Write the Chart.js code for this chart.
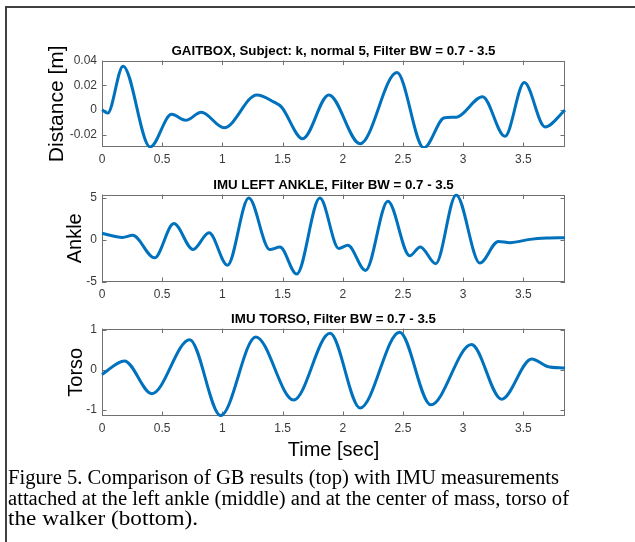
<!DOCTYPE html>
<html>
<head>
<meta charset="utf-8">
<script src="https://cdn.jsdelivr.net/npm/chart.js@4/dist/chart.umd.min.js"></script>
<style>
  html,body{margin:0;padding:0;background:#fff;}
  #stage{position:relative;width:635px;height:542px;overflow:hidden;background:#fff;}
  #frame{position:absolute;left:5px;top:6px;width:640px;height:560px;border-left:2px solid #404040;border-top:2px solid #404040;}
  canvas{position:absolute;left:0;top:0;}
  .cap{position:absolute;left:8px;font-family:"Liberation Serif","Times New Roman",serif;font-size:20px;line-height:20px;color:#000;white-space:nowrap;transform-origin:0 0;}
</style>
</head>
<body>
<div id="stage">
  <div id="frame"></div>
  <canvas id="c1" width="635" height="542"></canvas>
  <canvas id="c2" width="635" height="542"></canvas>
  <canvas id="c3" width="635" height="542"></canvas>
  <div class="cap" id="cap1" style="top:467px">Figure 5. Comparison of GB results (top) with IMU measurements</div>
  <div class="cap" id="cap2" style="top:488px">attached at the left ankle (middle) and at the center of mass, torso of</div>
  <div class="cap" id="cap3" style="top:508px">the walker (bottom).</div>
</div>
<script>
// ---- data ----
const xTickValues = [0, 0.5, 1, 1.5, 2, 2.5, 3, 3.5];
const xTickLabels = ['0', '0.5', '1', '1.5', '2', '2.5', '3', '3.5'];
const timeMax = 3.846;

const distT = [0.00, 0.047, 0.175, 0.40, 0.578, 0.694, 0.825, 1.014, 1.286, 1.43, 1.49, 1.667, 1.884, 2.144, 2.45, 2.673, 2.845, 2.944, 3.161, 3.347, 3.508, 3.68, 3.846];
const distV = [0.0003, -0.0024, 0.0355, -0.0298, -0.0034, -0.0083, -0.0018, -0.0143, 0.0122, 0.0064, 0.0026, -0.0231, 0.0122, -0.0272, 0.0303, -0.0305, -0.0062, -0.0057, 0.0108, -0.0212, 0.0222, -0.0136, 0.0000];
const distTickValues = [-0.02, 0, 0.02, 0.04];
const distTickLabels = ['-0.02', '0', '0.02', '0.04'];

const ankleT = [0.00, 0.17, 0.255, 0.436, 0.597, 0.756, 0.889, 1.042, 1.219, 1.394, 1.478, 1.617, 1.81, 1.967, 2.042, 2.189, 2.375, 2.556, 2.644, 2.772, 2.942, 3.139, 3.292, 3.389, 3.556, 3.694, 3.846];
const ankleV = [0.80, 0.31, 0.56, -2.12, 1.96, -1.12, 0.86, -3.0, 5.0, -1.13, -0.84, -4.06, 5.0, -1.0, -0.62, -3.62, 4.62, -1.87, -0.82, -2.82, 5.38, -2.74, -0.16, -0.31, 0.08, 0.23, 0.27];
const ankleTickValues = [-5, 0, 5];
const ankleTickLabels = ['-5', '0', '5'];

const torsoT = [0.00, 0.186, 0.414, 0.728, 0.986, 1.278, 1.592, 1.894, 2.144, 2.472, 2.731, 3.069, 3.319, 3.569, 3.70, 3.846];
const torsoV = [-0.12, 0.22, -0.60, 0.75, -1.15, 0.82, -0.76, 0.91, -0.96, 0.94, -0.88, 0.63, -0.74, 0.27, 0.08, 0.04];
const torsoTickValues = [-1, 0, 1];
const torsoTickLabels = ['-1', '0', '1'];

// ---- drawing ----
Chart.defaults.font.family = "'Liberation Sans', Arial, Helvetica, sans-serif";

const boxPlugin = {
  id: 'matlabBox',
  beforeDatasetsDraw(chart) {
    const {ctx, chartArea: a, scales: {x, y}} = chart;
    ctx.save();
    ctx.strokeStyle = '#707070';
    ctx.lineWidth = 1;
    ctx.strokeRect(Math.round(a.left) + 0.5, Math.round(a.top) + 0.5, Math.round(a.right - a.left) - 1, Math.round(a.bottom - a.top) - 1);
    const L = 4.5;
    ctx.beginPath();
    x.ticks.forEach(t => {
      const px = Math.round(x.getPixelForValue(t.value)) + 0.5;
      ctx.moveTo(px, a.bottom); ctx.lineTo(px, a.bottom - L);
      ctx.moveTo(px, a.top); ctx.lineTo(px, a.top + L);
    });
    y.ticks.forEach(t => {
      const py = Math.round(y.getPixelForValue(t.value)) + 0.5;
      ctx.moveTo(a.left, py); ctx.lineTo(a.left + L, py);
      ctx.moveTo(a.right, py); ctx.lineTo(a.right - L, py);
    });
    ctx.stroke();
    ctx.restore();
  }
};

function makeChart(id, cfg) {
  const pts = cfg.t.map((t, i) => ({x: t, y: cfg.v[i]}));
  const tickFont = {size: 12};
  const tickColor = '#3a3a3a';
  return new Chart(document.getElementById(id), {
    type: 'line',
    data: {datasets: [{data: pts, borderColor: '#0072BD', borderWidth: 3, pointRadius: 0,
      cubicInterpolationMode: 'monotone', fill: false, clip: 1}]},
    options: {
      responsive: false, animation: false, devicePixelRatio: 1,
      layout: {padding: {left: 42, right: 70, top: cfg.top - 15.7, bottom: cfg.bottom}},
      plugins: {
        legend: {display: false}, tooltip: {enabled: false},
        title: {display: true, text: cfg.title, fullSize: false, color: '#000',
          font: {size: 13.3, weight: 'bold'}, padding: {top: 0, bottom: 1.3}}
      },
      scales: {
        x: {
          type: 'linear', min: 0, max: timeMax,
          afterBuildTicks: s => { s.ticks = xTickValues.map(v => ({value: v})); },
          afterFit: s => { s.height = cfg.xh; },
          ticks: {callback: (v, i) => xTickLabels[xTickValues.indexOf(v)], font: tickFont, color: tickColor,
            padding: 5, maxRotation: 0, autoSkip: false},
          grid: {display: false, drawTicks: false},
          border: {display: false},
          title: cfg.xTitle ? {display: true, text: cfg.xTitle, color: '#000', font: {size: 20}, padding: {top: 0, bottom: 4}} : {display: false}
        },
        y: {
          type: 'linear', min: cfg.ymin, max: cfg.ymax,
          afterBuildTicks: s => { s.ticks = cfg.ticks.map(v => ({value: v})); },
          afterFit: s => { s.width = 60; },
          ticks: {callback: (v) => cfg.tickLabels[cfg.ticks.indexOf(v)], font: tickFont, color: tickColor, padding: 5, autoSkip: false},
          grid: {display: false, drawTicks: false},
          border: {display: false},
          title: {display: true, text: cfg.yTitle, color: '#000', font: {size: cfg.yFont}, padding: {top: cfg.yPad, bottom: 0}}
        }
      }
    },
    plugins: [boxPlugin]
  });
}

makeChart('c1', {t: distT, v: distV, title: 'GAITBOX, Subject: k, normal 5, Filter BW = 0.7 - 3.5',
  top: 59, bottom: 542 - 147 - 30, xh: 30, ymin: -0.0298, ymax: 0.04,
  ticks: distTickValues, tickLabels: distTickLabels, yTitle: 'Distance [m]', yFont: 21, yPad: 3});
makeChart('c2', {t: ankleT, v: ankleV, title: 'IMU LEFT ANKLE, Filter BW = 0.7 - 3.5',
  top: 193, bottom: 542 - 282 - 30, xh: 30, ymin: -5, ymax: 5.42,
  ticks: ankleTickValues, tickLabels: ankleTickLabels, yTitle: 'Ankle', yFont: 20, yPad: 21});
makeChart('c3', {t: torsoT, v: torsoV, title: 'IMU TORSO, Filter BW = 0.7 - 3.5',
  top: 327, bottom: 542 - 416 - 50, xh: 50, ymin: -1.16, ymax: 1.03,
  ticks: torsoTickValues, tickLabels: torsoTickLabels, yTitle: 'Torso', yFont: 20, yPad: 22, xTitle: 'Time [sec]'});

// caption lines fitted to the widths seen in the reference
const capTargets = {cap1: 551, cap2: 561, cap3: 190};
Object.keys(capTargets).forEach(id => {
  const el = document.getElementById(id);
  const w = el.getBoundingClientRect().width;
  el.style.transform = 'scaleX(' + (capTargets[id] / w) + ')';
});
</script>
</body>
</html>
